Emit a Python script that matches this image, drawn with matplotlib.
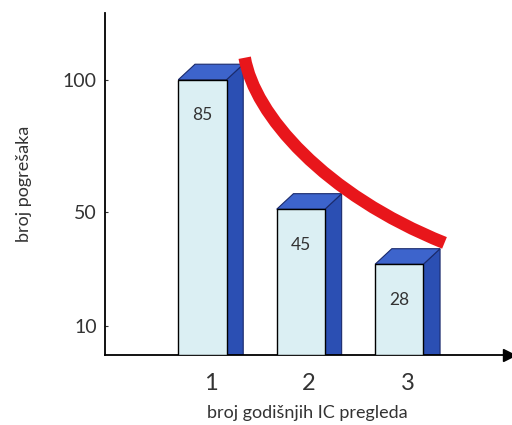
import matplotlib.pyplot as plt
from matplotlib.patches import Polygon, PathPatch
from matplotlib.path import Path

# number of yearly IC checks vs. number of errors
checks = ['1', '2', '3']
errors = [85, 45, 28]

# hand-drawn trend over the bars: start, two bezier handles, end
trend_x = [1.43, 1.53, 2.24, 3.46]
trend_y = [91.8, 74.2, 49.5, 34.6]

# y tick labels as printed, and the heights they sit at
ytick_labels = ['100', '50', '10']
ytick_pos = [85, 44, 9]

plt.rcParams['font.family'] = ['Lato', 'DejaVu Sans']
text_color = '#333333'

fig = plt.figure(figsize=(5.12, 4.25), dpi=100)
ax = fig.add_axes([0.205, 0.165, 0.79, 0.805])

width = 0.49
dx, dy = 0.17, 4.8
front = '#dbeff3'
side = '#2b4fb3'
top = '#3d64cc'
edge = '#1a2a6c'

xs = range(1, len(errors) + 1)
for x, h in zip(xs, errors):
    x0, x1 = x - width / 2, x + width / 2
    ax.add_patch(Polygon([(x1, 0), (x1 + dx, 0), (x1 + dx, h + dy), (x1, h)],
                         closed=True, facecolor=side, edgecolor=edge, lw=0.8, zorder=2))
    ax.add_patch(Polygon([(x0, h), (x0 + dx, h + dy), (x1 + dx, h + dy), (x1, h)],
                         closed=True, facecolor=top, edgecolor=edge, lw=0.8, zorder=2))
    ax.bar(x, h, width=width, color=front, edgecolor='black', lw=1.0, zorder=3)
    ax.text(x, h - 11, str(h), ha='center', va='center', fontsize=12.5,
            color=text_color, zorder=4)

trend = Path(list(zip(trend_x, trend_y)),
             [Path.MOVETO, Path.CURVE4, Path.CURVE4, Path.CURVE4])
ax.add_patch(PathPatch(trend, facecolor='none', edgecolor='#e8161b', lw=9,
                       capstyle='butt', zorder=5))

ax.set_xlim(0.01, 4.12)
ax.set_ylim(0, 105.7)

for s in ['top', 'right']:
    ax.spines[s].set_visible(False)
ax.spines['left'].set_linewidth(1.3)
ax.spines['bottom'].set_linewidth(1.3)
ax.plot(1, 0, '>k', transform=ax.get_yaxis_transform(), clip_on=False,
        markersize=8, zorder=6)

ax.set_yticks(ytick_pos)
ax.set_yticklabels(ytick_labels)
ax.set_xticks([x + dx / 2 for x in xs])
ax.set_xticklabels(checks, fontsize=17)
ax.tick_params(axis='y', direction='in', length=2, labelsize=14,
               colors=text_color, pad=6)
ax.tick_params(axis='x', length=0, pad=13, colors=text_color)

ax.set_xlabel('broj godišnjih IC pregleda', fontsize=13, color=text_color, labelpad=8)
ax.set_ylabel('broj pogrešaka', fontsize=13, color=text_color, labelpad=22)

fig.savefig('out.png', dpi=100)
